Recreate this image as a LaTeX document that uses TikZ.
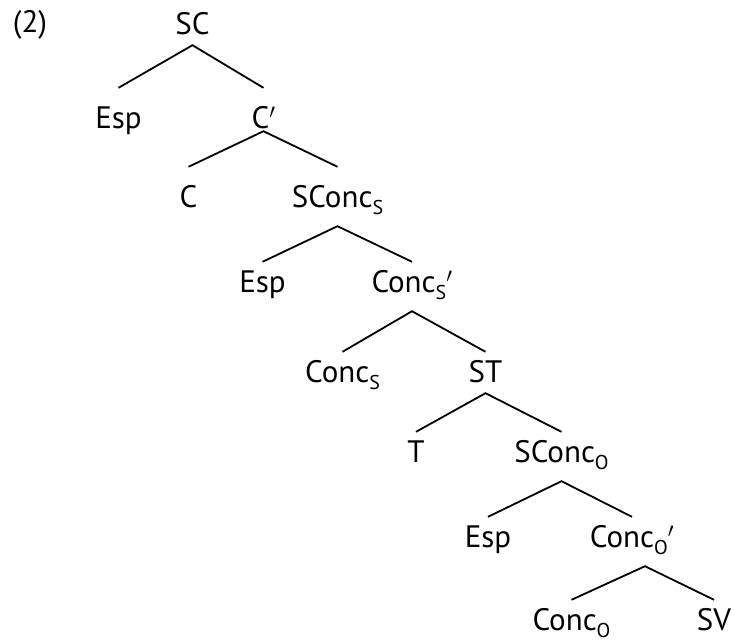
\documentclass[tikz,border=0pt]{standalone}
\usepackage{fontspec}
\setmainfont{PT Sans}
% lowered, smaller index letter (agreement subscripts)
\newcommand\lowsub[1]{\raisebox{-7pt}{\fontsize{20}{20}\selectfont #1}}
\newcommand\pr{\ensuremath{{}'}}
\begin{document}
\begin{tikzpicture}[x=1pt,y=-1pt,
  lab/.style={inner sep=0pt, anchor=base, font=\fontsize{31}{31}\selectfont,
              text height=30pt, text depth=11pt},
  tall/.style={text height=40pt},
  deep/.style={text depth=19pt},
  flat/.style={text depth=3pt},
  branch/.style={line width=1.8pt}]
\useasboundingbox (0,0) rectangle (734,643);

\node[lab] (num) at (30,32) {(2)};

\node[lab] (sc)   at (192.5,34)  {SC};
\node[lab,tall] (esp1) at (118.5,128) {Esp};
\node[lab,tall,flat] (c1) at (263.5,128) {C\pr};
\node[lab,tall] (c0) at (188.5,207) {C};
\node[lab,tall,deep] (scs) at (337.5,207) {SConc\lowsub{S}};
\node[lab] (esp2) at (262.5,292) {Esp};
\node[lab,deep] (cs1) at (412,292) {Conc\lowsub{S}\pr};
\node[lab] (cs0) at (342.5,382) {Conc\lowsub{S}};
\node[lab] (st) at (485.5,382) {ST};
\node[lab] (t) at (416,462) {T};
\node[lab,deep] (sco) at (561.5,462) {SConc\lowsub{O}};
\node[lab] (esp3) at (488,547) {Esp};
\node[lab,deep] (co1) at (632,547) {Conc\lowsub{O}\pr};
\node[lab] (co0) at (571.5,630) {Conc\lowsub{O}};
\node[lab] (sv) at (714,630) {SV};

\draw[branch] (esp1.north) -- (sc.south) -- (c1.north);
\draw[branch] (c0.north) -- (c1.south) -- (scs.north);
\draw[branch] (esp2.north) -- (scs.south) -- (cs1.north);
\draw[branch] (cs0.north) -- (cs1.south) -- (st.north);
\draw[branch] (t.north) -- (st.south) -- (sco.north);
\draw[branch] (esp3.north) -- (sco.south) -- (co1.north);
\draw[branch] (co0.north) -- ([xshift=13pt]co1.south) -- (sv.north);
\end{tikzpicture}
\end{document}
